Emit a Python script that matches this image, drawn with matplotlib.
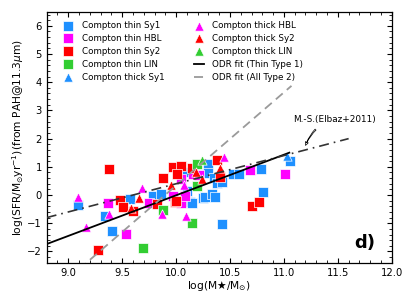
import numpy as np
import matplotlib
matplotlib.use('Agg')
import matplotlib.pyplot as plt
from matplotlib.ticker import MultipleLocator, AutoMinorLocator

# log(M*/Msun), log(SFR)
thin_sy1_x = [9.09, 9.34, 9.41, 9.57, 9.79, 9.86, 10.10, 10.10, 10.13, 10.15, 10.25, 10.27,
              10.33, 10.36, 10.30, 10.30, 10.35, 10.38, 10.43, 10.43, 10.53, 10.58, 10.785,
              10.81, 11.06]
thin_sy1_y = [-0.34, -0.75, -1.29, -0.15, -0.02, 0.02, 0.83, 0.14, -0.26, -0.29, -0.12, -0.08,
              0.05, -0.08, 1.11, 0.78, 0.60, 0.42, 0.45, -1.03, 0.75, 0.75, 0.91,
              0.12, 1.20]
thin_hbl_x = [9.37, 9.54, 9.75, 9.975, 10.05, 10.08, 10.05, 10.16, 10.21, 10.69, 11.01]
thin_hbl_y = [-0.29, -1.38, -0.27, -0.02, -0.29, -0.02, 0.58, 0.75, 0.72, 0.87, 0.75]
thin_sy2_x = [9.38, 9.48, 9.51, 9.28, 9.60, 9.82, 9.88, 9.97, 10.05, 10.01, 10.15, 10.38,
              10.41, 9.99, 10.0, 10.70, 10.77]
thin_sy2_y = [0.93, -0.17, -0.43, -1.95, -0.55, -0.32, 0.61, 0.99, 1.04, 0.74, 0.97, 1.25,
              0.64, -0.26, -0.20, -0.39, -0.26]
thin_lin_x = [9.69, 9.88, 10.15, 10.19, 10.19]
thin_lin_y = [-1.88, -0.53, -1.00, 1.09, 0.33]
thick_sy1_x = [11.03]
thick_sy1_y = [1.37]
thick_hbl_x = [9.09, 9.16, 9.375, 9.68, 9.87, 10.07, 10.09, 10.44]
thick_hbl_y = [-0.06, -1.15, -0.68, 0.24, -0.67, 0.34, -0.73, 1.35]
thick_sy2_x = [9.58, 9.66, 9.95, 10.18, 10.24, 10.41]
thick_sy2_y = [-0.45, -0.10, 0.37, 0.81, 0.58, 0.96]
thick_lin_x = [10.24]
thick_lin_y = [1.25]

# fit lines: slope, value at logM=10, x range
odr1_slope, odr1_at10, odr1_range = 1.44, -0.01, (8.8, 11.05)
odr2_slope, odr2_at10, odr2_range = 3.3, 0.34, (9.1, 11.07)
ms_slope, ms_at10, ms_range = 1.0, 0.4, (8.8, 11.6)

blue = '#1e90ff'
magenta = '#ff00ff'
red = '#ff0000'
green = '#32cd32'

fig = plt.figure(figsize=(4.15, 3.08), dpi=100)
ax = fig.add_axes([0.1125, 0.147, 0.8315, 0.815])

kw = dict(s=45, edgecolors='white', linewidths=0.5, zorder=3)
ax.scatter(thin_sy1_x, thin_sy1_y, marker='s', c=blue, label='Compton thin Sy1', **kw)
ax.scatter(thin_hbl_x, thin_hbl_y, marker='s', c=magenta, label='Compton thin HBL', **kw)
ax.scatter(thin_sy2_x, thin_sy2_y, marker='s', c=red, label='Compton thin Sy2', **kw)
ax.scatter(thin_lin_x, thin_lin_y, marker='s', c=green, label='Compton thin LIN', **kw)
ax.scatter(thick_sy1_x, thick_sy1_y, marker='^', c=blue, label='Compton thick Sy1', **kw)
ax.scatter(thick_hbl_x, thick_hbl_y, marker='^', c=magenta, label='Compton thick HBL', **kw)
ax.scatter(thick_sy2_x, thick_sy2_y, marker='^', c=red, label='Compton thick Sy2', **kw)
ax.scatter(thick_lin_x, thick_lin_y, marker='^', c=green, label='Compton thick LIN', **kw)

x1 = np.linspace(*odr1_range, 50)
ax.plot(x1, odr1_slope * (x1 - 10) + odr1_at10, color='k', lw=1.3, zorder=4,
        label='ODR fit (Thin Type 1)')
x2 = np.linspace(*odr2_range, 50)
ax.plot(x2, odr2_slope * (x2 - 10) + odr2_at10, color='#9a9a9a', lw=1.3, ls=(0, (5, 3)),
        zorder=4, label='ODR fit (All Type 2)')
x3 = np.linspace(*ms_range, 50)
ax.plot(x3, ms_slope * (x3 - 10) + ms_at10, color='#333333', lw=1.2, ls=(0, (6, 3, 1, 3)),
        zorder=4)

ax.annotate('M.-S.(Elbaz+2011)', xy=(11.2, 1.76), xytext=(11.47, 2.68),
            ha='center', va='center', fontsize=6.4,
            arrowprops=dict(arrowstyle='fancy,head_length=0.4,head_width=0.35,tail_width=0.15',
                            fc='white', ec='k', lw=0.5, shrinkA=3, shrinkB=0,
                            relpos=(0.35, 0.0), connectionstyle='arc3,rad=0.15'))
ax.text(11.75, -1.69, 'd)', fontsize=13, fontweight='bold', ha='center', va='center')

ax.set_xlim(8.8, 12.0)
ax.set_ylim(-2.4, 6.5)
ax.xaxis.set_major_locator(MultipleLocator(0.5))
ax.yaxis.set_major_locator(MultipleLocator(1))
ax.xaxis.set_minor_locator(AutoMinorLocator(5))
ax.yaxis.set_minor_locator(AutoMinorLocator(5))
ax.tick_params(which='both', direction='in', top=True, right=True, labelsize=7.2)
ax.tick_params(which='major', length=3.5, width=0.8)
ax.tick_params(which='minor', length=2, width=0.6)
for sp in ax.spines.values():
    sp.set_linewidth(0.9)

ax.set_xlabel(r'log(M$\bigstar$/M$_{\odot}$)', fontsize=7.7, labelpad=1)
ax.set_ylabel(r'log(SFR/M$_{\odot}$yr$^{-1}$)(from PAH@11.3$\mu$m)', fontsize=7.7, labelpad=1)

ax.legend(ncol=2, loc='upper left', frameon=False, fontsize=6.3, handlelength=1.2,
          handletextpad=0.9, columnspacing=3.4, labelspacing=0.45,
          bbox_to_anchor=(0.03, 0.988), borderaxespad=0.3)

fig.savefig('out.png', dpi=100)
